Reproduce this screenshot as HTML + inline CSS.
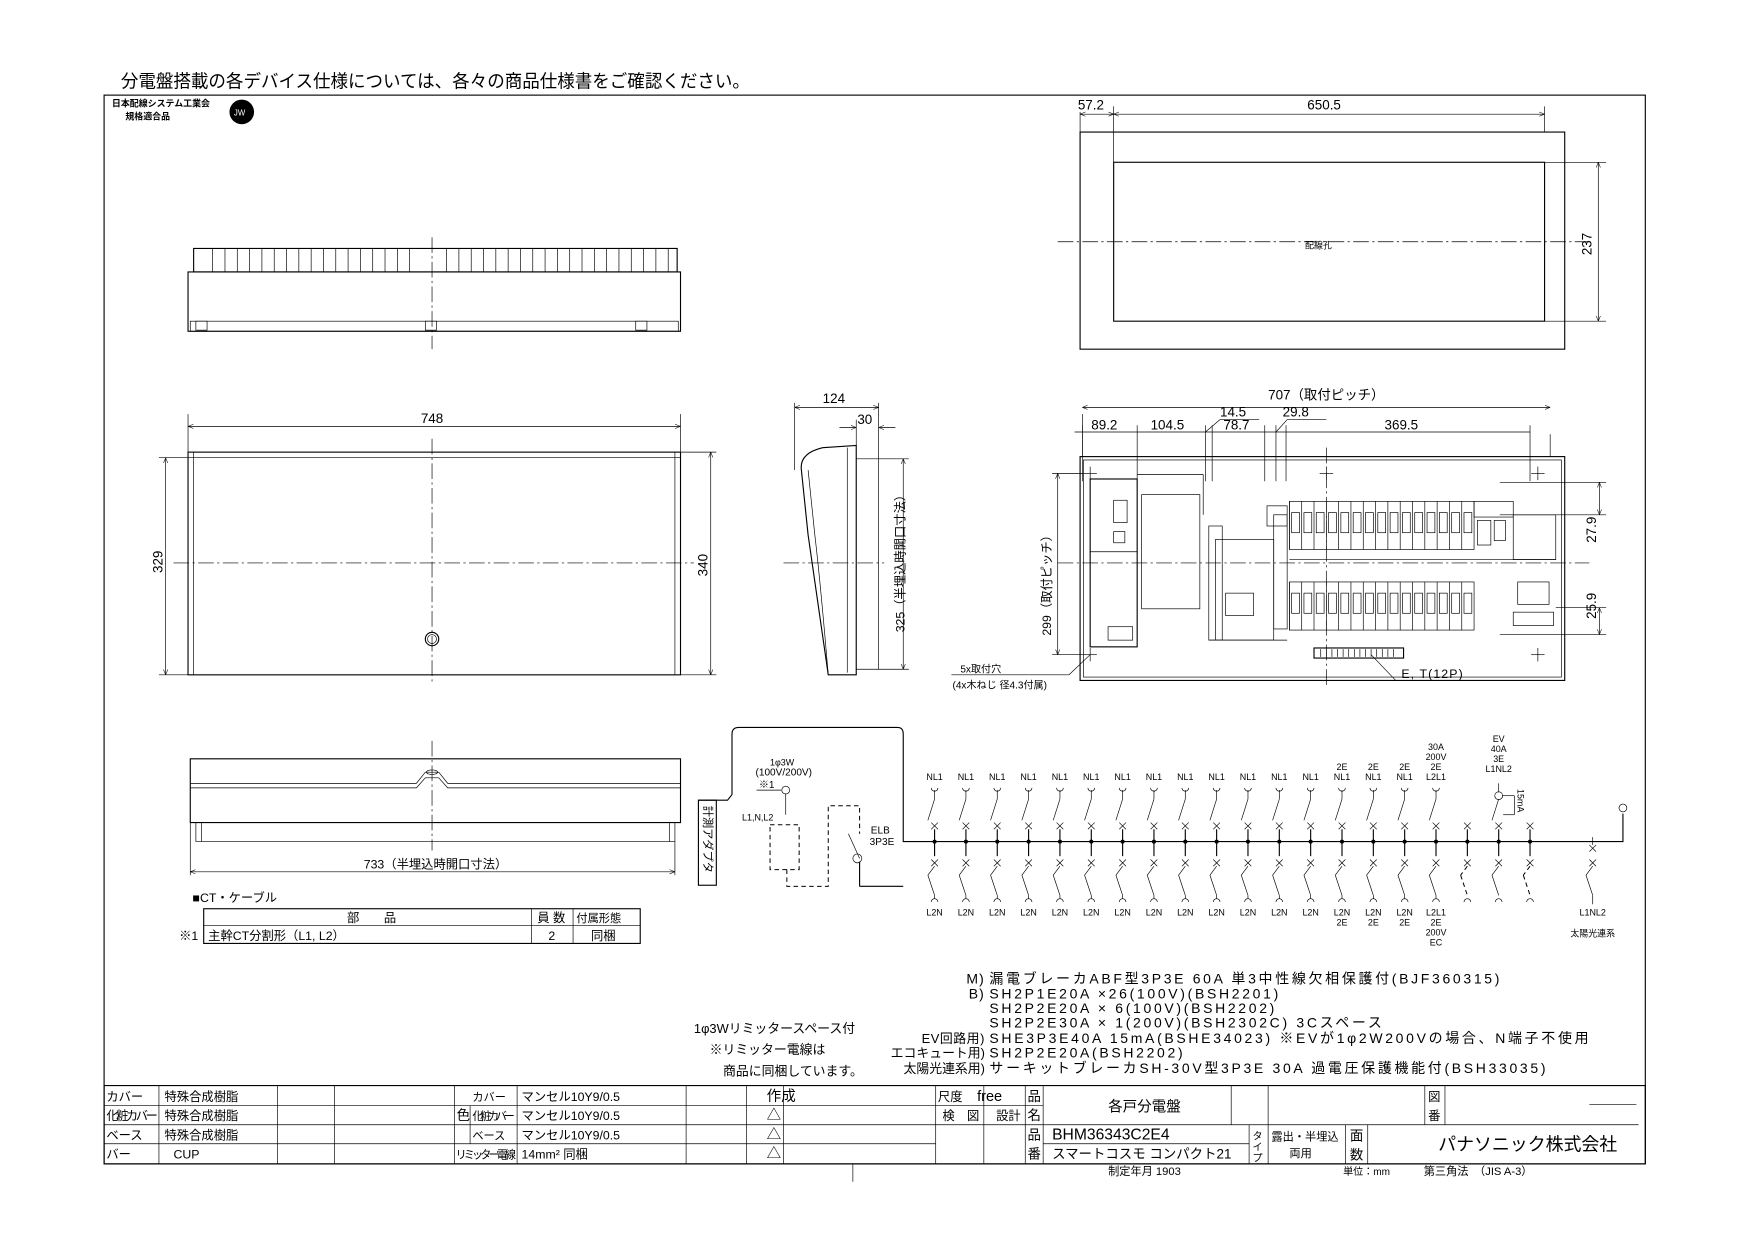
<!DOCTYPE html>
<html><head><meta charset="utf-8">
<style>
html,body{margin:0;padding:0;background:#fff;}
svg{display:block;}
text{font-family:"Liberation Sans","Noto Sans CJK JP",sans-serif;fill:#000;}
.s{stroke:#000;fill:none;stroke-width:1;}
.t{stroke:#000;fill:none;stroke-width:0.6;}
.c{stroke:#000;fill:none;stroke-width:0.6;stroke-dasharray:14 3 2 3;}
.d{stroke:#000;fill:none;stroke-width:0.9;stroke-dasharray:4 3;}
</style></head><body>
<svg id="g" width="1755" height="1240" viewBox="0 0 1568 1108" preserveAspectRatio="none" xmlns="http://www.w3.org/2000/svg">
<defs>
<marker id="a" viewBox="0 0 10 10" refX="10" refY="5" markerWidth="8" markerHeight="8" orient="auto-start-reverse"><path d="M0,1 L10,5 L0,9" fill="none" stroke="#000" stroke-width="1"/></marker>
</defs>
<text x="108" y="78" font-size="16" textLength="562" lengthAdjust="spacingAndGlyphs">分電盤搭載の各デバイス仕様については、各々の商品仕様書をご確認ください。</text>
<rect class="s" x="93" y="85" width="1377" height="955"/>
<text x="100" y="95" font-size="8" font-weight="bold">日本配線システム工業会</text>
<text x="112" y="107" font-size="8" font-weight="bold">規格適合品</text>
<circle cx="216" cy="100" r="11" fill="#000"/>
<text x="209" y="103" font-size="7" fill="#fff" style="fill:#fff">JW</text>

<rect class="s" x="965" y="118" width="433" height="194"/>
<rect class="s" x="995" y="145" width="385" height="142"/>
<line class="c" x1="945" y1="216" x2="1420" y2="216"/>
<text x="1166" y="222" font-size="8">配線孔</text>
<line class="t" x1="965" y1="100" x2="965" y2="118"/><line class="t" x1="995" y1="95" x2="995" y2="145"/><line class="t" x1="1380" y1="95" x2="1380" y2="118"/>
<line class="t" x1="965" y1="102" x2="995" y2="102" marker-start="url(#a)" marker-end="url(#a)"/>
<line class="t" x1="995" y1="102" x2="1380" y2="102" marker-start="url(#a)" marker-end="url(#a)"/>
<text x="963" y="98" font-size="12">57.2</text><text x="1168" y="98" font-size="12">650.5</text>
<line class="t" x1="1380" y1="145" x2="1435" y2="145"/><line class="t" x1="1380" y1="287" x2="1435" y2="287"/>
<line class="t" x1="1428" y1="145" x2="1428" y2="287" marker-start="url(#a)" marker-end="url(#a)"/>
<text transform="translate(1422,228) rotate(-90)" font-size="12">237</text>

<g id="topel"></g>
<line class="c" x1="386" y1="212" x2="386" y2="312"/>

<rect class="s" x="168" y="404" width="440" height="199"/>
<line class="t" x1="168" y1="409" x2="608" y2="409"/>
<line class="t" x1="173" y1="404" x2="173" y2="603"/><line class="t" x1="603" y1="404" x2="603" y2="603"/>
<line class="c" x1="155" y1="503" x2="620" y2="503"/>
<line class="c" x1="386" y1="392" x2="386" y2="612"/>
<circle class="s" cx="386" cy="571" r="6"/><circle class="t" cx="386" cy="571" r="4"/>
<line class="t" x1="168" y1="370" x2="168" y2="404"/><line class="t" x1="608" y1="370" x2="608" y2="404"/>
<line class="t" x1="168" y1="381" x2="608" y2="381" marker-start="url(#a)" marker-end="url(#a)"/>
<text x="376" y="378" font-size="12">748</text>
<line class="t" x1="142" y1="409" x2="168" y2="409"/><line class="t" x1="142" y1="603" x2="168" y2="603"/>
<line class="t" x1="148" y1="409" x2="148" y2="603" marker-start="url(#a)" marker-end="url(#a)"/>
<text transform="translate(145,512) rotate(-90)" font-size="12">329</text>
<line class="t" x1="608" y1="404" x2="640" y2="404"/><line class="t" x1="608" y1="603" x2="640" y2="603"/>
<line class="t" x1="635" y1="404" x2="635" y2="603" marker-start="url(#a)" marker-end="url(#a)"/>
<text transform="translate(632,515) rotate(-90)" font-size="12">340</text>

<path class="s" d="M765,398 L765,603 L740,603 Q728,520 722,478 L716,420 Q714,405 735,400 Z"/>
<path class="t" d="M757,400 L757,601 M740,603 Q733,520 728,478 L722,420"/>
<path class="t" d="M765,410 L785,410 L785,598 L765,598"/>
<line class="c" x1="700" y1="503" x2="790" y2="503"/>
<line class="t" x1="710" y1="360" x2="710" y2="420"/><line class="t" x1="785" y1="360" x2="785" y2="410"/><line class="t" x1="765" y1="375" x2="765" y2="398"/>
<line class="t" x1="710" y1="364" x2="785" y2="364" marker-start="url(#a)" marker-end="url(#a)"/>
<text x="735" y="360" font-size="12">124</text>
<line class="t" x1="750" y1="382" x2="765" y2="382" marker-end="url(#a)"/><line class="t" x1="800" y1="382" x2="785" y2="382" marker-end="url(#a)"/>
<text x="766" y="379" font-size="12">30</text>
<line class="t" x1="785" y1="410" x2="812" y2="410"/><line class="t" x1="785" y1="598" x2="812" y2="598"/>
<line class="t" x1="807" y1="410" x2="807" y2="598" marker-start="url(#a)" marker-end="url(#a)"/>
<text transform="translate(808,565) rotate(-90)" font-size="11">325（半埋込時開口寸法）</text>

<path class="s" d="M170,678 L608,678 L608,735 L170,735 Z"/>
<path class="t" d="M170,700 L372,700 L380,690 L392,690 L400,700 L608,700 M170,704 L372,704 L380,695 L392,695 L400,704 L608,704"/>
<path class="t" d="M175,735 L175,752 L603,752 L603,735 M180,735 L180,752 M598,735 L598,752"/>
<ellipse class="t" cx="386" cy="690" rx="5" ry="2"/>
<line class="c" x1="386" y1="662" x2="386" y2="760"/>
<line class="t" x1="170" y1="735" x2="170" y2="782"/><line class="t" x1="603" y1="752" x2="603" y2="782"/>
<line class="t" x1="170" y1="779" x2="603" y2="779" marker-start="url(#a)" marker-end="url(#a)"/>
<text x="325" y="776" font-size="11">733（半埋込時開口寸法）</text>

<text x="172" y="806" font-size="11">■CT・ケーブル</text>
<rect class="s" x="182" y="812" width="390" height="31"/>
<line class="t" x1="182" y1="827" x2="572" y2="827"/>
<line class="t" x1="475" y1="812" x2="475" y2="843"/><line class="t" x1="512" y1="812" x2="512" y2="843"/>
<text x="310" y="824" font-size="11">部　　品</text><text x="480" y="824" font-size="11">員 数</text><text x="515" y="824" font-size="10">付属形態</text>
<text x="160" y="840" font-size="11">※1</text><text x="186" y="840" font-size="11">主幹CT分割形（L1, L2）</text>
<text x="490" y="840" font-size="11">2</text><text x="528" y="840" font-size="11">同梱</text>

<g id="inner"></g>
<g id="circ"></g>
<text x="620" y="923" font-size="11.5">1φ3Wリミッタースペース付</text>
<text x="634" y="942" font-size="11.5">※リミッター電線は</text>
<text x="646" y="961" font-size="11.5">商品に同梱しています。</text>
<g font-size="12.5" letter-spacing="2.4">
<text x="880" y="879" text-anchor="end" letter-spacing="1">M)</text><text x="884" y="879">漏電ブレーカABF型3P3E 60A 単3中性線欠相保護付(BJF360315)</text>
<text x="880" y="892" text-anchor="end" letter-spacing="1">B)</text><text x="884" y="892">SH2P1E20A ×26(100V)(BSH2201)</text>
<text x="884" y="905">SH2P2E20A × 6(100V)(BSH2202)</text>
<text x="884" y="918">SH2P2E30A × 1(200V)(BSH2302C) 3Cスペース</text>
<text x="880" y="932" text-anchor="end" font-size="11.5" letter-spacing="0.5">EV回路用)</text><text x="884" y="932">SHE3P3E40A 15mA(BSHE34023) ※EVが1φ2W200Vの場合、N端子不使用</text>
<text x="880" y="945" text-anchor="end" font-size="11.5" letter-spacing="0">エコキュート用)</text><text x="884" y="945">SH2P2E20A(BSH2202)</text>
<text x="880" y="959" text-anchor="end" font-size="11.5" letter-spacing="0">太陽光連系用)</text><text x="884" y="959">サーキットブレーカSH-30V型3P3E 30A 過電圧保護機能付(BSH33035)</text>
</g>

<g id="tb" font-size="12"></g>
</svg>
<script>
var NS="http://www.w3.org/2000/svg";
function el(p,tag,at,txt){var e=document.createElementNS(NS,tag);for(var k in at)e.setAttribute(k,at[k]);if(txt!=null)e.textContent=txt;p.appendChild(e);return e;}
function L(p,x1,y1,x2,y2,c){return el(p,'line',{x1:x1,y1:y1,x2:x2,y2:y2,'class':c||'t'});}
function R(p,x,y,w,h,c){return el(p,'rect',{x:x,y:y,width:w,height:h,'class':c||'t'});}
function T(p,x,y,s,fs,extra){var a={x:x,y:y,'font-size':fs||9};if(extra)for(var k in extra)a[k]=extra[k];return el(p,'text',a,s);}

var te=document.getElementById('topel');
R(te,173,222,432,21,'s'); R(te,168,243,440,53,'s'); R(te,170,287,436,9);
for(var x=190;x<600;x+=11){ if(x>375&&x<395)continue; L(te,x,222,x,243);}
R(te,175,287,10,8);R(te,380,287,10,8);R(te,568,287,10,8);

var iv=document.getElementById('inner');
R(iv,965,408,433,200,'s'); R(iv,968,411,427,194);
L(iv,1185,400,1185,612,'c'); L(iv,945,503,1420,503,'c');
[[974,423],[1185,423],[1374,423],[974,585],[1374,585]].forEach(function(p){L(iv,p[0]-6,p[1],p[0]+6,p[1]);L(iv,p[0],p[1]-6,p[0],p[1]+6);});
R(iv,974,428,42,150,'s'); L(iv,974,493,1016,493); R(iv,995,447,12,20); R(iv,995,475,10,10); R(iv,990,560,22,12);
R(iv,1020,442,52,102); L(iv,1016,424,1075,424); L(iv,1075,424,1075,460);
R(iv,1080,470,12,102,'t'); R(iv,1086,482,52,90,'t'); R(iv,1095,530,25,20);
R(iv,1138,460,12,102); R(iv,1132,452,18,18);
R(iv,1152,448,165,43); R(iv,1152,520,165,43);
for(var x=1152;x<1317;x+=11){L(iv,x,448,x,491);L(iv,x,520,x,563);R(iv,x+2,458,7,18);R(iv,x+2,530,7,18);}
R(iv,1317,448,35,14); R(iv,1320,465,12,22);R(iv,1335,465,10,18);
R(iv,1352,460,38,40); R(iv,1356,520,28,20); R(iv,1352,547,36,12);
L(iv,1152,500,1390,500); L(iv,1080,572,1150,572);
R(iv,1174,579,80,9,'s'); for(var x=1180;x<1250;x+=5)L(iv,x,580,x,587);
L(iv,1225,585,1247,608); L(iv,1247,608,1325,608); T(iv,1252,606,'E, T(12P)',11,{'letter-spacing':'1'});
L(iv,1385,388,1385,408);L(iv,967,370,967,408);
L(iv,967,364,1385,364).setAttribute('marker-start','url(#a)');iv.lastChild.setAttribute('marker-end','url(#a)');
T(iv,1133,357,'707（取付ピッチ）',12);
L(iv,960,386,1367,386);
[967,1016,1077,1083,1130,1140,1149,1367].forEach(function(x){L(iv,x,380,x,430);});
T(iv,975,384,'89.2',12);T(iv,1028,384,'104.5',12);T(iv,1090,372,'14.5',12);T(iv,1093,384,'78.7',12);T(iv,1146,372,'29.8',12);T(iv,1237,384,'369.5',12);
L(iv,1077,386,1090,375);L(iv,1090,375,1125,375);L(iv,1140,386,1150,375);L(iv,1150,375,1185,375);
L(iv,1340,431,1435,431);L(iv,1340,460,1435,460);L(iv,1429,431,1429,460).setAttribute('marker-start','url(#a)');iv.lastChild.setAttribute('marker-end','url(#a)');
T(iv,0,0,'27.9',12,{transform:'translate(1426,485) rotate(-90)'});
L(iv,1390,543,1435,543);L(iv,1340,567,1435,567);L(iv,1429,543,1429,567).setAttribute('marker-start','url(#a)');iv.lastChild.setAttribute('marker-end','url(#a)');
T(iv,0,0,'25.9',12,{transform:'translate(1426,553) rotate(-90)'});
L(iv,940,423,968,423);L(iv,940,585,968,585);L(iv,945,423,945,585).setAttribute('marker-start','url(#a)');iv.lastChild.setAttribute('marker-end','url(#a)');
T(iv,0,0,'299（取付ピッチ）',11,{transform:'translate(939,568) rotate(-90)'});
L(iv,974,585,955,603);L(iv,955,603,850,603);
T(iv,858,601,'5x取付穴',9);T(iv,851,615,'(4x木ねじ 径4.3付属)',9);

var c=document.getElementById('circ');
el(c,'path',{d:'M624,715 L650,715 L654,710 L654,656 Q654,650 660,650 L802,650 Q807,650 807,656 L807,752 L808,752 L1450,752 L1450,727','class':'s'});
R(c,624,715,16,76,'s'); T(c,0,0,'計測アダプタ',10,{transform:'translate(629,720) rotate(90)'});
T(c,688,684,'1φ3W',8);T(c,675,693,'(100V/200V)',9);
el(c,'circle',{cx:702,cy:706,r:3.5,'class':'t'});L(c,702,709,702,728);L(c,676,706,698,706);T(c,678,704,'※1',9);
T(c,663,733,'L1,N,L2',8);
el(c,'path',{d:'M688,737 L714,737 L714,777 L688,777 Z','class':'d'});
el(c,'path',{d:'M703,777 L703,792 L740,792 L740,720 L768,720 L768,745','class':'d'});
L(c,768,770,768,792,'s');L(c,768,792,807,792,'s');el(c,'circle',{cx:766,cy:767,r:4,'class':'t'});
L(c,758,745,768,767); T(c,778,745,'ELB',9);T(c,777,755,'3P3E',9);
el(c,'circle',{cx:1450,cy:722,r:3.5,'class':'t'});
var bx=[];for(var i=0;i<17;i++)bx.push(835+i*28);
var tl=['NL1','NL1','NL1','NL1','NL1','NL1','NL1','NL1','NL1','NL1','NL1','NL1','NL1','2E\nNL1','2E\nNL1','2E\nNL1','30A\n200V\n2E\nL2L1'];
var bl=['L2N','L2N','L2N','L2N','L2N','L2N','L2N','L2N','L2N','L2N','L2N','L2N','L2N','L2N\n2E','L2N\n2E','L2N\n2E','L2L1\n2E\n200V\nEC'];
function branch(x,top,bot,dash){
  var cl=dash?'d':'t';
  if(top){el(c,'path',{d:'M'+(x-3)+',704 A3,3 0 0 0 '+(x+3)+',704','class':'t'});L(c,x,706,x,714);L(c,x,714,x-6,733,cl);}
  L(c,x-3,735,x+3,741);L(c,x+3,735,x-3,741);L(c,x,741,x,765,'s');el(c,'circle',{cx:x,cy:752,r:1.8,fill:'#000'});
  L(c,x-3,768,x+3,774);L(c,x+3,768,x-3,774);L(c,x,774,x-6,782,cl);L(c,x-6,782,x,800,cl);
  if(bot){L(c,x,800,x,803);el(c,'path',{d:'M'+(x-3)+',806 A3,3 0 0 1 '+(x+3)+',806','class':'t'});}
}
bx.forEach(function(x,i){branch(x,true,true);
  var ls=tl[i].split('\n');ls.forEach(function(s,j){T(c,x,697-(ls.length-1-j)*9,s,8,{'text-anchor':'middle'});});
  bl[i].split('\n').forEach(function(s,j){T(c,x,818+j*9,s,8,{'text-anchor':'middle'});});
});
[1311,1367].forEach(function(x){branch(x,false,false,true);el(c,'path',{d:'M'+(x-3)+',806 A3,3 0 0 1 '+(x+3)+',806','class':'t'});});
branch(1339,false,false,false);el(c,'path',{d:'M1336,806 A3,3 0 0 1 1342,806','class':'t'});
el(c,'circle',{cx:1339,cy:711,r:3.5,'class':'t'});L(c,1339,700,1339,708);L(c,1339,714,1333,733);L(c,1342,711,1353,711);L(c,1353,711,1353,728);L(c,1343,728,1353,728);
T(c,0,0,'15mA',8,{transform:'translate(1356,705) rotate(90)'});
['EV','40A','3E','L1NL2'].forEach(function(s,j){T(c,1339,663+j*9,s,8,{'text-anchor':'middle'});});
var x=1423;L(c,x-3,755,x+3,761);L(c,x+3,755,x-3,761);L(c,x,748,x,755);L(c,x-3,768,x+3,774);L(c,x+3,768,x-3,774);L(c,x,774,x-6,782);L(c,x-6,782,x,800);L(c,x,800,x,808);
T(c,x,818,'L1NL2',8,{'text-anchor':'middle'});T(c,x,837,'太陽光連系',8,{'text-anchor':'middle'});

var tb=document.getElementById('tb');
R(tb,93,970,1377,70,'s');
[988,1005,1022].forEach(function(y){L(tb,93,y,836,y);});
L(tb,836,988,932,988);L(tb,836,1005,1464,1005);L(tb,932,1022,1116,1022);
[142,248,299,406,462,613,667,700].forEach(function(x){L(tb,x,970,x,1040);});
L(tb,420,988,420,1022);
[836,879,916,932].forEach(function(x){L(tb,x,970,x,1040);});
L(tb,1116,1005,1116,1040);L(tb,1133,970,1133,1040);L(tb,1202,1005,1202,1040);L(tb,1222,1005,1222,1040);
L(tb,1273,970,1273,1005);L(tb,1291,970,1291,1005);L(tb,1100,970,1100,1005);
L(tb,1420,987,1462,987);
var rows=[984,1001,1018,1035];
[['カバー','特殊合成樹脂','カバー','マンセル10Y9/0.5'],['化粧カバー','特殊合成樹脂','化粧カバー','マンセル10Y9/0.5'],['ベース','特殊合成樹脂','ベース','マンセル10Y9/0.5'],['バー','CUP','リミッター電線','14mm² 同梱']].forEach(function(r,i){
 var a=T(tb,95,rows[i],r[0],11); if(i==1)a.setAttribute('textLength','46');
 T(tb,i==3?155:147,rows[i],r[1],11);
 var b=T(tb,i==3?407:422,rows[i],r[2],10); if(i==1)b.setAttribute('textLength','38'); if(i==3)b.setAttribute('textLength','54');
 T(tb,466,rows[i],r[3],11);
 T(tb,685,rows[i],i==0?'作成':'△',13);
});
T(tb,408,1001,'色',12);
T(tb,838,984,'尺度',11);T(tb,873,984,'free',13);T(tb,842,1001,'検　図',11);T(tb,890,1001,'設計',11);
T(tb,918,984,'品',12);T(tb,918,1001,'名',12);T(tb,918,1018,'品',12);T(tb,918,1035,'番',12);
T(tb,990,993,'各戸分電盤',13);T(tb,940,1018,'BHM36343C2E4',14);T(tb,940,1035,'スマートコスモ コンパクト21',12);
T(tb,1119,1018,'タ',9);T(tb,1119,1028,'イ',9);T(tb,1119,1038,'プ',9);
T(tb,1136,1019,'露出・半埋込',10);T(tb,1152,1034,'両用',10);T(tb,1206,1019,'面',12);T(tb,1206,1036,'数',12);
T(tb,1276,984,'図',11);T(tb,1276,1001,'番',11);T(tb,1285,1028,'パナソニック株式会社',16);
T(tb,990,1050,'制定年月 1903',10);T(tb,1200,1050,'単位：mm',9);T(tb,1272,1050,'第三角法　（JIS A-3）',10);
L(tb,762,1040,762,1056);
</script>
</body></html>
